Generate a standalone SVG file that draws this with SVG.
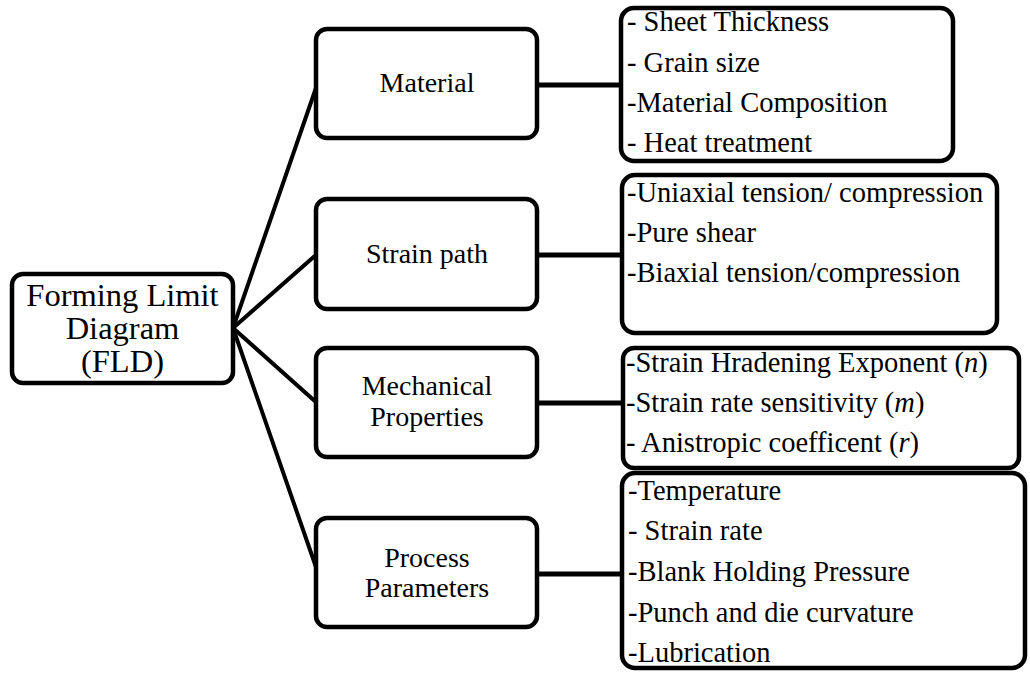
<svg xmlns="http://www.w3.org/2000/svg" width="1030" height="673" viewBox="0 0 1030 673">
  <style>
    .box { fill: #ffffff; stroke: #000000; stroke-width: 4.5; }
    .link { stroke: #000000; stroke-width: 4; fill: none; stroke-linecap: round; }
    .bar { stroke: #000000; stroke-width: 5; fill: none; }
    text { fill: #000000; }
    .root { font-size: 32.5px; text-anchor: middle; }
    .cat { font-size: 28px; text-anchor: middle; }
    .item { font-size: 28.5px; }
    .it { font-style: italic; }
  </style>
  <rect width="1030" height="673" fill="#ffffff"/>

  <!-- connectors -->
  <g id="connectors">
    <line class="link" x1="233" y1="328" x2="317" y2="85"/>
    <line class="link" x1="233" y1="328" x2="317" y2="254"/>
    <line class="link" x1="233" y1="328" x2="317" y2="403"/>
    <line class="link" x1="233" y1="328" x2="317" y2="570"/>
    <line class="bar" x1="537" y1="85" x2="622" y2="85"/>
    <line class="bar" x1="537" y1="255" x2="622" y2="255"/>
    <line class="bar" x1="537" y1="403" x2="623" y2="403"/>
    <line class="bar" x1="537" y1="574" x2="622" y2="574"/>
  </g>

  <g font-family="Liberation Serif, Tinos, DejaVu Serif, serif">
  <!-- root -->
  <g id="fld">
    <rect class="box" x="12" y="274" width="221" height="109" rx="11"/>
    <text class="root" x="122.5" y="306">Forming Limit</text>
    <text class="root" x="122.5" y="339">Diagram</text>
    <text class="root" x="122.5" y="372">(FLD)</text>
  </g>

  <!-- categories -->
  <g id="material">
    <rect class="box" x="316" y="29" width="221" height="109" rx="11"/>
    <text class="cat" x="427" y="92">Material</text>
  </g>
  <g id="strain-path">
    <rect class="box" x="316" y="199" width="221" height="110" rx="11"/>
    <text class="cat" x="427" y="263">Strain path</text>
  </g>
  <g id="mechanical">
    <rect class="box" x="316" y="348" width="221" height="109" rx="11"/>
    <text class="cat" x="427" y="395">Mechanical</text>
    <text class="cat" x="427" y="426">Properties</text>
  </g>
  <g id="process">
    <rect class="box" x="316" y="518" width="221" height="109" rx="11"/>
    <text class="cat" x="427" y="567">Process</text>
    <text class="cat" x="427" y="597">Parameters</text>
  </g>

  <!-- factor lists -->
  <g id="material-list">
    <rect class="box" x="621" y="8" width="332" height="153" rx="13"/>
    <text class="item" x="627" y="31">- Sheet Thickness</text>
    <text class="item" x="627" y="72">- Grain size</text>
    <text class="item" x="627" y="112">-Material Composition</text>
    <text class="item" x="627" y="152">- Heat treatment</text>
  </g>
  <g id="strain-list">
    <rect class="box" x="622" y="175" width="375" height="158" rx="13"/>
    <text class="item" x="627" y="202">-Uniaxial tension/ compression</text>
    <text class="item" x="627" y="242">-Pure shear</text>
    <text class="item" x="627" y="282">-Biaxial tension/compression</text>
  </g>
  <g id="mechanical-list">
    <rect class="box" x="623" y="348" width="396" height="120" rx="11"/>
    <text class="item" x="626" y="372">-Strain Hradening Exponent (<tspan class="it">n</tspan>)</text>
    <text class="item" x="626" y="412">-Strain rate sensitivity (<tspan class="it">m</tspan>)</text>
    <text class="item" x="626" y="452">- Anistropic coefficent (<tspan class="it">r</tspan>)</text>
  </g>
  <g id="process-list">
    <rect class="box" x="622" y="473" width="403" height="195" rx="13"/>
    <text class="item" x="628" y="500">-Temperature</text>
    <text class="item" x="628" y="540">- Strain rate</text>
    <text class="item" x="628" y="581">-Blank Holding Pressure</text>
    <text class="item" x="628" y="622">-Punch and die curvature</text>
    <text class="item" x="628" y="662">-Lubrication</text>
  </g>
  </g>
</svg>
